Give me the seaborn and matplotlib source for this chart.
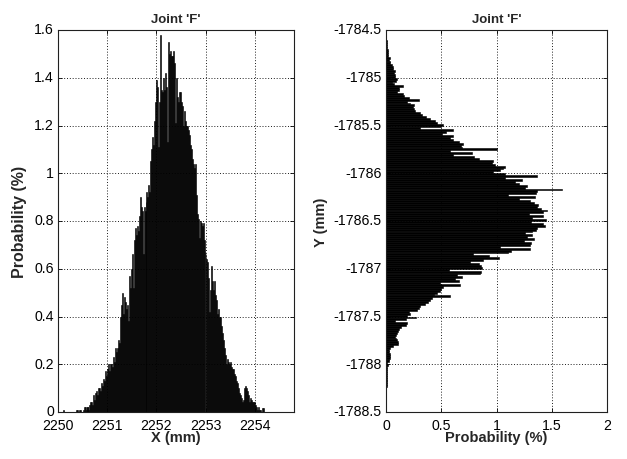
import numpy as np
import pandas as pd
import matplotlib
matplotlib.use("Agg")
import matplotlib.pyplot as plt
from matplotlib.ticker import FuncFormatter
from matplotlib.transforms import ScaledTranslation
import seaborn as sns

# ---- X coordinate of joint F: histogram, 0.02 mm bins ----
x_bin_start = 2250.08
x_bin_width = 0.02
x_prob = [
    0, 0.01, 0, 0, 0, 0, 0, 0, 0, 0,
    0, 0, 0, 0, 0.01, 0.01, 0, 0.01, 0.01, 0,
    0, 0.01, 0.02, 0.02, 0.01, 0.02, 0.02, 0.01, 0.03, 0.04,
    0.04, 0.03, 0.07, 0.05, 0.08, 0.09, 0.07, 0.10, 0.10, 0.09,
    0.12, 0.11, 0.14, 0.13, 0.17, 0.15, 0.18, 0.20, 0.17, 0.20,
    0.20, 0.19, 0.23, 0.21, 0.27, 0.25, 0.27, 0.30, 0.29, 0.40,
    0.45, 0.50, 0.41, 0.48, 0.46, 0.43, 0.45, 0.38, 0.57, 0.52,
    0.60, 0.66, 0.52, 0.72, 0.77, 0.74, 0.78, 0.76, 0.82, 0.90,
    0.86, 0.84, 0.66, 0.86, 0.84, 0.88, 0.92, 0.90, 0.95, 0.92,
    1.05, 1.10, 1.15, 1.12, 1.22, 1.30, 1.39, 1.36, 1.11, 1.30,
    1.58, 1.35, 1.34, 1.40, 1.35, 1.42, 1.36, 1.13, 1.55, 1.50,
    1.51, 1.49, 1.49, 1.51, 1.46, 1.21, 1.40, 1.32, 1.30, 1.34,
    1.34, 1.30, 1.28, 1.20, 1.26, 1.22, 1.20, 1.20, 1.18, 1.16,
    1.12, 1.10, 1.06, 1.04, 1.02, 1.04, 0.91, 0.83, 0.81, 0.73,
    0.80, 0.79, 0.78, 0.79, 0.72, 0.67, 0.66, 0.64, 0.63, 0.56,
    0.42, 0.51, 0.61, 0.55, 0.51, 0.55, 0.49, 0.47, 0.41, 0.43,
    0.40, 0.40, 0.36, 0.33, 0.30, 0.27, 0.24, 0.20, 0.22, 0.21,
    0.20, 0.21, 0.19, 0.18, 0.18, 0.16, 0.15, 0.13, 0.12, 0.10,
    0.08, 0.07, 0.06, 0.04, 0.05, 0.10, 0.11, 0.10, 0.09, 0.07,
    0.04, 0.06, 0.05, 0.04, 0.04, 0.04, 0.03, 0.02, 0.01, 0.02,
    0.01, 0.01, 0.0, 0.015, 0.015, 0.0,
]

# ---- Y coordinate of joint F: histogram listed from the top bin downward ----
y_bin_top = -1784.60
y_bin_width = 0.02
y_prob = [
    0.005, 0.01, 0.01, 0.005, 0.01, 0.02, 0.02, 0.015, 0.02, 0.04,
    0.03, 0.04, 0.04, 0.05, 0.06, 0.06, 0.08, 0.07, 0.08, 0.08,
    0.10, 0.09, 0.05, 0.07, 0.15, 0.12, 0.12, 0.10, 0.15, 0.16,
    0.21, 0.30, 0.19, 0.22, 0.25, 0.24, 0.25, 0.26, 0.31, 0.33,
    0.36, 0.40, 0.44, 0.46, 0.52, 0.50, 0.31, 0.61, 0.54, 0.51,
    0.61, 0.58, 0.61, 0.66, 0.70, 0.68, 0.69, 1.00, 0.58, 0.78,
    0.61, 0.80, 0.84, 0.97, 0.96, 0.99, 1.08, 1.06, 1.03, 0.97,
    1.08, 1.37, 1.08, 1.23, 1.17, 1.20, 1.28, 1.26, 1.59, 1.37,
    1.36, 1.10, 1.35, 1.20, 1.30, 1.34, 1.38, 1.37, 1.40, 1.46,
    1.42, 1.29, 1.42, 1.32, 1.45, 1.31, 1.42, 1.44, 1.37, 1.36,
    1.32, 1.26, 1.32, 1.28, 1.34, 1.25, 1.31, 1.30, 1.03, 1.30,
    1.13, 1.10, 0.79, 0.93, 1.02, 0.88, 0.76, 0.84, 0.86, 0.87,
    0.57, 0.86, 0.85, 0.64, 0.69, 0.62, 0.66, 0.49, 0.67, 0.52,
    0.50, 0.49, 0.46, 0.43, 0.58, 0.42, 0.40, 0.38, 0.35, 0.31,
    0.30, 0.28, 0.21, 0.22, 0.19, 0.27, 0.18, 0.08, 0.19, 0.18,
    0.14, 0.12, 0.11, 0.10, 0.09, 0.08, 0.09, 0.10, 0.11, 0.11,
    0.06, 0.04, 0.03, 0.03, 0.04, 0.04, 0.04, 0.03, 0.03, 0.01,
    0.02, 0.01, 0.005, 0.01, 0.005, 0.005, 0.005, 0.01, 0.005, 0.005,
    0.005, 0.005,
]

title_text = "Joint 'F'"
x_ticks = [2250, 2251, 2252, 2253, 2254]
x_prob_ticks = [0, 0.2, 0.4, 0.6, 0.8, 1.0, 1.2, 1.4, 1.6]
y_ticks = [-1788.5, -1788, -1787.5, -1787, -1786.5, -1786, -1785.5, -1785, -1784.5]
y_prob_ticks = [0, 0.5, 1, 1.5, 2]

# bin geometry
n_x = len(x_prob)
x_lo = x_bin_start
x_hi = x_bin_start + x_bin_width * n_x
x_centers = x_lo + x_bin_width * (np.arange(n_x) + 0.5)

n_y = len(y_prob)
y_hi = y_bin_top
y_lo = y_bin_top - y_bin_width * n_y
y_centers = y_hi - y_bin_width * (np.arange(n_y) + 0.5)

df_x = pd.DataFrame({"x": x_centers, "prob": np.asarray(x_prob, dtype=float)})
df_y = pd.DataFrame({"y": y_centers, "prob": np.asarray(y_prob, dtype=float)})

sns.set_style("ticks")
plt.rcParams["font.family"] = ["Liberation Sans", "DejaVu Sans"]

W, H = 627, 460
fig = plt.figure(figsize=(W / 100, H / 100), dpi=100)
ax1 = fig.add_axes([58 / W, 1 - 413 / H, 236 / W, 382 / H])
ax2 = fig.add_axes([386 / W, 1 - 413 / H, 221 / W, 382 / H])

bar_kw = dict(color="black", alpha=1, edgecolor="black", linewidth=0.4)
sns.histplot(data=df_x, x="x", weights="prob", bins=n_x, binrange=(x_lo, x_hi),
             ax=ax1, **bar_kw)
sns.histplot(data=df_y, y="y", weights="prob", bins=n_y, binrange=(y_lo, y_hi),
             ax=ax2, **bar_kw)

fmt = FuncFormatter(lambda v, p: "%g" % v)
tick_fs = 10.2
label_fs = 10.5

for ax in (ax1, ax2):
    ax.set_axisbelow(True)
    ax.grid(True, color="black", linestyle=(0, (1.2, 2.2)), linewidth=0.6)
    ax.tick_params(direction="in", length=3, width=0.6, top=True, right=True,
                   labelsize=tick_fs, pad=3, colors="black")
    ax.tick_params(axis="x", pad=4)
    for s in ax.spines.values():
        s.set_color("#202020")
        s.set_linewidth(0.8)
    ax.set_title(title_text, fontsize=9.5, fontweight="bold", pad=6)
    ax.xaxis.set_major_formatter(fmt)
    ax.yaxis.set_major_formatter(fmt)

ax1.set_xlim(2250, 2254.8)
ax1.set_ylim(0, 1.6)
ax1.set_xticks(x_ticks)
ax1.set_yticks(x_prob_ticks)
ax1.set_xlabel("X (mm)", fontsize=label_fs, fontweight="bold", labelpad=-1)
ax1.set_ylabel("Probability (%)", fontsize=label_fs + 1, fontweight="bold", labelpad=5)

ax2.set_xlim(0, 2)
ax2.set_ylim(-1788.5, -1784.5)
ax2.set_xticks(y_prob_ticks)
ax2.set_yticks(y_ticks)
ax2.set_xlabel("Probability (%)", fontsize=label_fs, fontweight="bold", labelpad=-1)
ax2.set_ylabel("Y (mm)", fontsize=label_fs, fontweight="bold", labelpad=4)

# y tick labels sit a touch above their ticks
lift = ScaledTranslation(0, 1.6 / 72, fig.dpi_scale_trans)
for ax in (ax1, ax2):
    for lbl in ax.get_yticklabels():
        lbl.set_transform(lbl.get_transform() + lift)

fig.savefig("out.png", dpi=100, facecolor="white")
